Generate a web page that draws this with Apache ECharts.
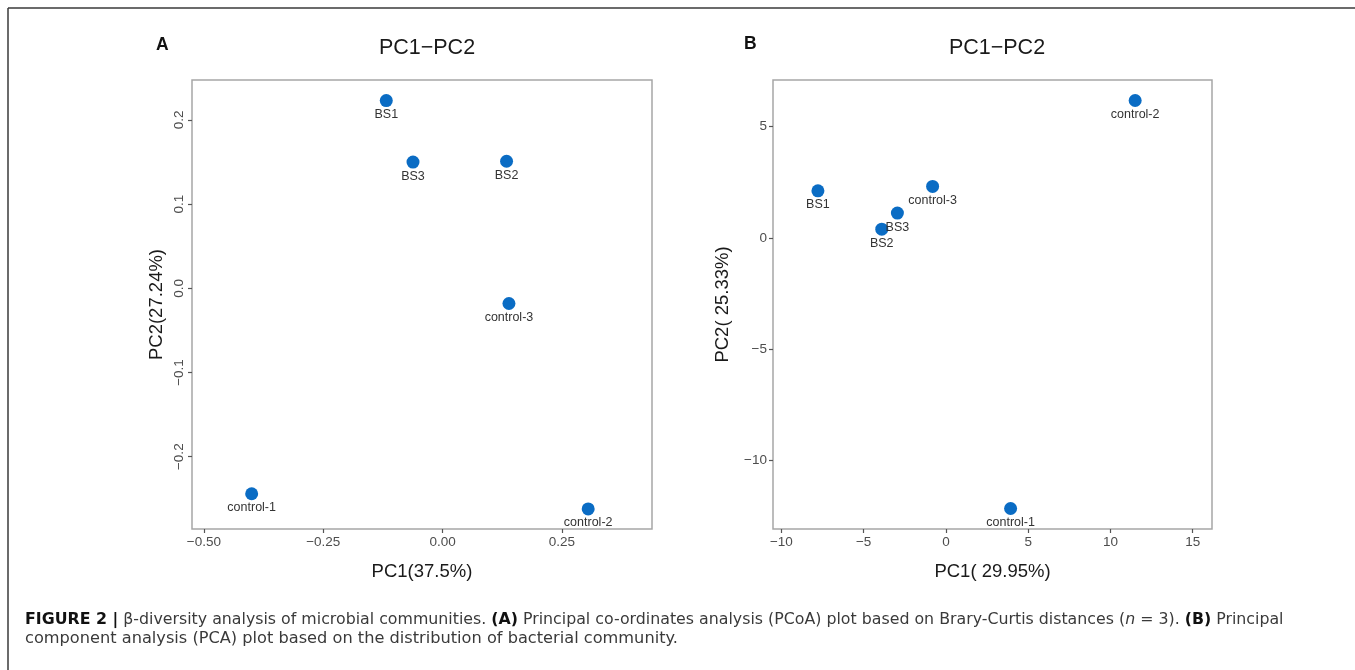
<!DOCTYPE html>
<html>
<head>
<meta charset="utf-8">
<script src="https://cdn.jsdelivr.net/npm/echarts@6/dist/echarts.min.js"></script>
<style>
html,body{margin:0;padding:0;background:#fff;}
#chart{width:1355px;height:670px;}
</style>
</head>
<body>
<div id="chart"></div>
<script>
// ---- Panel A (PCoA) ----
var samplesA = ['BS1', 'BS3', 'BS2', 'control-3', 'control-1', 'control-2'];
var pc1A = [-0.118, -0.062, 0.134, 0.139, -0.400, 0.305];
var pc2A = [0.223, 0.150, 0.151, -0.018, -0.244, -0.262];
var xTicksA = [-0.5, -0.25, 0, 0.25];
var xTickLabelsA = ['\u22120.50', '\u22120.25', '0.00', '0.25'];
var yTicksA = [-0.2, -0.1, 0, 0.1, 0.2];
var yTickLabelsA = ['\u22120.2', '\u22120.1', '0.0', '0.1', '0.2'];

// ---- Panel B (PCA) ----
var samplesB = ['control-2', 'BS1', 'control-3', 'BS3', 'BS2', 'control-1'];
var pc1B = [11.5, -7.78, -0.81, -2.95, -3.9, 3.93];
var pc2B = [6.18, 2.12, 2.32, 1.12, 0.40, -12.15];
var xTicksB = [-10, -5, 0, 5, 10, 15];
var xTickLabelsB = ['\u221210', '\u22125', '0', '5', '10', '15'];
var yTicksB = [-10, -5, 0, 5];
var yTickLabelsB = ['\u221210', '\u22125', '0', '5'];

var titleText = 'PC1\u2212PC2';
var xNameA = 'PC1(37.5%)', yNameA = 'PC2(27.24%)';
var xNameB = 'PC1( 29.95%)', yNameB = 'PC2( 25.33%)';

var FONT = '"Liberation Sans", Arial, Helvetica, sans-serif';
var CAP_FONT = '"DejaVu Sans", "Liberation Sans", sans-serif';
var dotColor = '#0a6cc4';

function lookup(ticks, labels) {
  return function (v) {
    for (var i = 0; i < ticks.length; i++) {
      if (Math.abs(ticks[i] - v) < 1e-9) return labels[i];
    }
    return '';
  };
}
function pts(names, xs, ys) {
  return names.map(function (n, i) { return { name: n, value: [xs[i], ys[i]] }; });
}

var chart = echarts.init(document.getElementById('chart'), null, { renderer: 'canvas' });

var axisCommon = {
  type: 'value',
  axisLine: { show: false, onZero: false },
  splitLine: { show: false },
  axisTick: { show: true, length: 4, lineStyle: { color: '#555', width: 1.2 } },
  axisLabel: { color: '#4d4d4d', fontSize: 13.5, fontFamily: FONT },
  nameTextStyle: { color: '#1a1a1a', fontSize: 18.5, fontFamily: FONT }
};

function xAxisDef(idx, min, max, ticks, labels, name) {
  return Object.assign({}, axisCommon, {
    gridIndex: idx, min: min, max: max,
    name: name, nameLocation: 'middle', nameGap: 33,
    axisTick: Object.assign({}, axisCommon.axisTick, { customValues: ticks }),
    axisLabel: Object.assign({}, axisCommon.axisLabel, { customValues: ticks, formatter: lookup(ticks, labels), margin: 6 })
  });
}
function yAxisDef(idx, min, max, ticks, labels, name, rotate, nameGap, margin) {
  return Object.assign({}, axisCommon, {
    gridIndex: idx, min: min, max: max,
    name: name, nameLocation: 'middle', nameGap: nameGap, nameRotate: 90,
    axisTick: Object.assign({}, axisCommon.axisTick, { customValues: ticks }),
    axisLabel: Object.assign({}, axisCommon.axisLabel, { customValues: ticks, formatter: lookup(ticks, labels), rotate: rotate, margin: margin })
  });
}

var labelStyle = {
  show: true, position: 'bottom', distance: 1,
  formatter: '{b}', color: '#333', fontSize: 12.5, fontFamily: FONT
};

var option = {
  backgroundColor: '#fff',
  animation: false,
  grid: [
    { left: 192, top: 80, width: 460, height: 449, show: true, borderColor: '#a6a6a6', borderWidth: 1.5, backgroundColor: 'transparent' },
    { left: 773, top: 80, width: 439, height: 449, show: true, borderColor: '#a6a6a6', borderWidth: 1.5, backgroundColor: 'transparent' }
  ],
  title: [
    { text: titleText, left: 422, top: 32, textAlign: 'center', textStyle: { fontSize: 21.5, fontWeight: 'normal', color: '#1a1a1a', fontFamily: FONT } },
    { text: titleText, left: 992, top: 32, textAlign: 'center', textStyle: { fontSize: 21.5, fontWeight: 'normal', color: '#1a1a1a', fontFamily: FONT } },
    { text: 'A', left: 151, top: 31, textStyle: { fontSize: 17.5, fontWeight: 'bold', color: '#111', fontFamily: FONT } },
    { text: 'B', left: 739, top: 30, textStyle: { fontSize: 17.5, fontWeight: 'bold', color: '#111', fontFamily: FONT } }
  ],
  xAxis: [
    xAxisDef(0, -0.525, 0.4387, xTicksA, xTickLabelsA, xNameA),
    xAxisDef(1, -10.51, 16.17, xTicksB, xTickLabelsB, xNameB)
  ],
  yAxis: [
    yAxisDef(0, -0.2859, 0.2475, yTicksA, yTickLabelsA, yNameA, 90, 26, 6),
    yAxisDef(1, -13.07, 7.10, yTicksB, yTickLabelsB, yNameB, 0, 41, 6)
  ],
  series: [
    { type: 'scatter', xAxisIndex: 0, yAxisIndex: 0, symbolSize: 13, itemStyle: { color: dotColor, opacity: 1 },
      label: labelStyle, data: pts(samplesA, pc1A, pc2A) },
    { type: 'scatter', xAxisIndex: 1, yAxisIndex: 1, symbolSize: 13, itemStyle: { color: dotColor, opacity: 1 },
      label: labelStyle, data: pts(samplesB, pc1B, pc2B) }
  ],
  graphic: [
    { type: 'line', shape: { x1: 8, y1: 8, x2: 1355, y2: 8 }, style: { stroke: '#3a3a3a', lineWidth: 1.5 } },
    { type: 'line', shape: { x1: 8, y1: 8, x2: 8, y2: 670 }, style: { stroke: '#3a3a3a', lineWidth: 1.5 } },
    { type: 'text', left: 25, top: 612,
      style: {
        text: '{b|FIGURE 2 |} \u03b2-diversity analysis of microbial communities. {b|(A)} Principal co-ordinates analysis (PCoA) plot based on Brary-Curtis distances ({i|n} = 3). {b|(B)} Principal',
        font: '15.8px ' + CAP_FONT,
        fill: '#3a3a3a',
        rich: {
          b: { fontWeight: 'bold', fill: '#111', fontFamily: CAP_FONT, fontSize: 15.8 },
          i: { fontStyle: 'italic', fontFamily: CAP_FONT, fontSize: 15.8 }
        }
      }
    },
    { type: 'text', left: 25, top: 631,
      style: {
        text: 'component analysis (PCA) plot based on the distribution of bacterial community.',
        font: '16.2px ' + CAP_FONT,
        fill: '#3a3a3a'
      }
    }
  ]
};
chart.setOption(option);
</script>
</body>
</html>
